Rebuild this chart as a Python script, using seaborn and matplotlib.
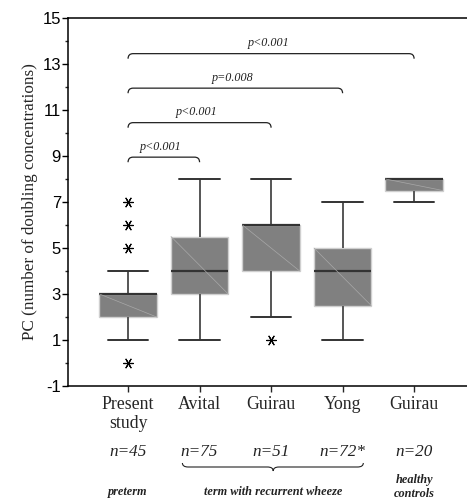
import matplotlib
matplotlib.use("Agg")
import matplotlib.pyplot as plt
import matplotlib.transforms as mtransforms
from matplotlib.path import Path
from matplotlib.patches import PathPatch
import pandas as pd
import seaborn as sns

# Bronchial challenge results: provocation concentration (PC) per study
studies = ["Present\nstudy", "Avital", "Guirau", "Yong", "Guirau"]
sample_sizes = ["n=45", "n=75", "n=51", "n=72*", "n=20"]
whisker_low = [1, 1, 2, 1, 7]
q1 = [2, 3, 4, 2.5, 7.5]
median = [3, 4, 6, 4, 8]
q3 = [3, 5.5, 6, 5, 8]
whisker_high = [4, 8, 8, 7, 8]
outlier_group = [0, 0, 0, 0, 2]
outlier_value = [7, 6, 5, 0, 1]
comparison_pairs = [(0, 1), (0, 2), (0, 3), (0, 4)]
comparison_labels = ["p<0.001", "p<0.001", "p=0.008", "p<0.001"]
comparison_heights = [8.95, 10.45, 11.95, 13.45]
group_labels = ["preterm", "term with recurrent wheeze", "healthy\ncontrols"]

sns.set_style("ticks")
plt.rcParams["font.family"] = ["Liberation Serif", "DejaVu Serif"]

# Each group is described by its five-number summary; with whis=(0, 100)
# the box spans the quartiles and the whiskers reach min / max exactly.
rows = []
for i in range(len(studies)):
    for v in (whisker_low[i], q1[i], median[i], q3[i], whisker_high[i]):
        rows.append({"group": i, "value": v})
df = pd.DataFrame(rows)

W, H = 467, 500
fig = plt.figure(figsize=(W / 100, H / 100), dpi=100)
ax = fig.add_axes([68 / W, 1 - 386 / H, 1 - 68 / W, (386 - 18) / H])

sns.boxplot(
    data=df, x="group", y="value", order=list(range(len(studies))),
    whis=(0, 100), width=0.8, showfliers=False, saturation=1,
    color="#808080", linewidth=1.0, ax=ax,
    boxprops=dict(facecolor="#808080", edgecolor="#cfcfcf", linewidth=1.0),
    whiskerprops=dict(color="#555555", linewidth=1.4),
    capprops=dict(color="#333333", linewidth=1.4),
    medianprops=dict(color="#333333", linewidth=1.6),
    capwidths=0.57,
)

# faint diagonal seam across each box
for i in range(len(studies)):
    if q3[i] > q1[i]:
        ax.plot([i - 0.4, i + 0.4], [q3[i], q1[i]], color="#a8a8a8",
                lw=0.5, zorder=3)

ax.scatter(outlier_group, outlier_value, marker=(6, 2, 90), s=50,
           color="black", linewidths=0.85, zorder=4)

# significance brackets with rounded ends
drop, corner = 0.22, 0.07
for (a, b), lab, h in zip(comparison_pairs, comparison_labels, comparison_heights):
    verts = [(a, h - drop), (a, h), (a + corner, h), (b - corner, h),
             (b, h), (b, h - drop)]
    codes = [Path.MOVETO, Path.CURVE3, Path.CURVE3, Path.LINETO,
             Path.CURVE3, Path.CURVE3]
    ax.add_patch(PathPatch(Path(verts, codes), fill=False, lw=0.9,
                           edgecolor="#222222", clip_on=False))
    ax.text((a + b) / 2 - 0.04, h + 0.45, lab, ha="center", va="center",
            style="italic", fontsize=8.7, color="#222222")

ax.set_ylim(-1, 15)
ax.set_xlim(-0.84, 4.74)
ax.set_yticks(range(-1, 16, 2))
ax.set_yticks(range(0, 15, 2), minor=True)
ax.set_yticklabels([str(v) for v in range(-1, 16, 2)],
                   family=["Liberation Sans", "DejaVu Sans"], fontsize=12)
ax.set_xticks(range(len(studies)))
ax.set_xticklabels(studies, fontsize=12.8, linespacing=1.15)
ax.tick_params(axis="y", which="major", length=4, width=1.0, pad=1,
               colors="black")
ax.tick_params(axis="y", which="minor", length=2.5, width=1.0)
ax.tick_params(axis="x", length=4, width=1.0, pad=3)
ax.set_xlabel("")
ax.set_ylabel("PC (number of doubling concentrations)", fontsize=12.3,
              labelpad=3)
for side in ("left", "bottom", "top"):
    ax.spines[side].set_visible(True)
    ax.spines[side].set_linewidth(1.1)
    ax.spines[side].set_color("black")
ax.spines["right"].set_visible(False)

# sample sizes and group annotations below the axis
trans = mtransforms.blended_transform_factory(ax.transData, fig.transFigure)
for i, n in enumerate(sample_sizes):
    ax.text(i, 1 - 452 / H, n, transform=trans, ha="center", va="center",
            style="italic", fontsize=12.3, color="#222222")

y_top, y_mid, y_bot = 1 - 463 / H, 1 - 467 / H, 1 - 471 / H
x0, x1, xc, dx = 0.76, 3.29, 2.03, 0.08
brace = [(x0, y_top), (x0, y_mid), (x0 + dx, y_mid), (xc - dx, y_mid),
         (xc, y_mid), (xc, y_bot), (xc, y_mid), (xc + dx, y_mid),
         (x1 - dx, y_mid), (x1, y_mid), (x1, y_top)]
brace_codes = [Path.MOVETO, Path.CURVE3, Path.CURVE3, Path.LINETO,
               Path.CURVE3, Path.CURVE3, Path.CURVE3, Path.CURVE3,
               Path.LINETO, Path.CURVE3, Path.CURVE3]
fig.add_artist(PathPatch(Path(brace, brace_codes), transform=trans,
                         fill=False, lw=0.8, edgecolor="#222222"))

for x, y, lab in zip([0, 2.03, 4], [492, 492, 487], group_labels):
    ax.text(x, 1 - y / H, lab, transform=trans, ha="center", va="center",
            style="italic", weight="bold", fontsize=8.8, linespacing=1.3,
            color="#222222")

fig.savefig("out.png", dpi=100)
